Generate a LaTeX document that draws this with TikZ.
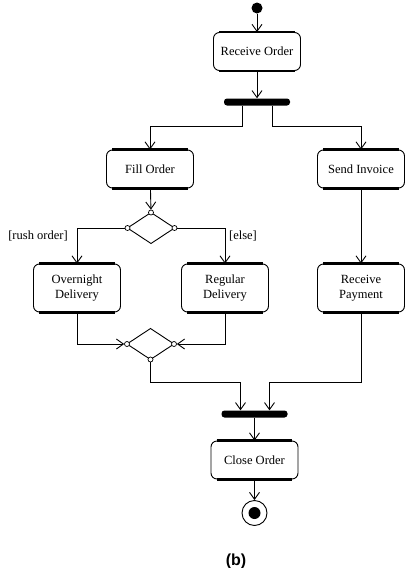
\documentclass[tikz,border=0pt]{standalone}
\usepackage{fontspec}
\setmainfont{Liberation Serif}
\setsansfont{Liberation Sans}
\usetikzlibrary{arrows.meta,shapes.geometric,positioning}
\tikzset{
    activity/.style={
           rectangle,
           rounded corners=6pt,
           draw=black, line width=0.9pt,
           minimum width=87pt,
           minimum height=38pt,
           inner sep=2pt,
           align=center,
           font=\fontsize{12.5}{15.5}\selectfont,
           },
    bar/.style={
           rectangle,
           rounded corners=3pt,
           fill=black,
           minimum width=66pt,
           minimum height=7pt,
           inner sep=0pt,
           },
    choice/.style={
           diamond,
           draw=black, line width=0.9pt,
           minimum width=47pt,
           minimum height=31pt,
           inner sep=0pt, outer sep=0pt,
           },
    port/.style={
           circle,
           draw=black, line width=0.7pt,
           fill=white,
           inner sep=0pt,
           minimum size=5pt,
           },
    flow/.style={draw, line width=0.9pt,
           -{Straight Barb[length=7pt,width=10pt,line width=0.9pt]}},
    guard/.style={font=\fontsize{12.5}{15}\selectfont},
}

\begin{document}
\begin{tikzpicture}[x=1pt,y=-1pt]
 \useasboundingbox (0,0) rectangle (407,568);

 % nodes
 \node[circle, fill=black, minimum size=11pt, inner sep=0pt] (init) at (257,8) {};
 \node[activity] (recvorder) at (257,51.5) {Receive Order};
 \node[bar] (fork) at (257,102) {};
 \node[activity] (fillorder) at (150,169) {Fill Order};
 \node[activity] (sendinvoice) at (361,169) {Send Invoice};
 \node[choice] (branch) at (151,228) {};
 \node[port] (branch-n) at (branch.north) {};
 \node[port] (branch-w) at (branch.west) {};
 \node[port] (branch-e) at (branch.east) {};
 \node[activity, minimum height=48pt] (overnight) at (77,288) {Overnight\\Delivery};
 \node[activity, minimum height=48pt] (regular) at (225,288) {Regular\\Delivery};
 \node[activity, minimum height=48pt] (recvpayment) at (361,288) {Receive\\Payment};
 \node[choice] (merge) at (150.5,344) {};
 \node[port] (merge-w) at (merge.west) {};
 \node[port] (merge-e) at (merge.east) {};
 \node[port] (merge-s) at (merge.south) {};
 \node[bar] (join) at (254.5,414) {};
 \node[activity] (closeorder) at (254.5,460) {Close Order};
 \node[circle, draw=black, line width=0.9pt, minimum size=25pt, inner sep=0pt] (final) at (254.5,513) {};
 \node[circle, fill=black, minimum size=12pt, inner sep=0pt] (finaldot) at (final.center) {};

 % guards
 \node[guard] (rushlbl) at (38,236) {[rush order]};
 \node[guard] (elselbl) at (243,236) {[else]};

 % thick top and bottom edges
 \foreach \n in {recvorder,fillorder,sendinvoice,overnight,regular,recvpayment,closeorder}{
   \draw[line width=2.5pt] ([xshift=6pt]\n.north west) -- ([xshift=-6pt]\n.north east);
   \draw[line width=2.5pt] ([xshift=6pt]\n.south west) -- ([xshift=-6pt]\n.south east);
 }

 % flows
 \draw[flow] (init) -- (recvorder);
 \draw[flow] (recvorder) -- (fork);
 \draw[flow] ([xshift=-15pt]fork.south) -- ++(0,21) -| (fillorder.north);
 \draw[flow] ([xshift=15pt]fork.south) -- ++(0,21) -| (sendinvoice.north);
 \draw[flow] (fillorder) -- (branch-n);
 \draw[flow] (branch-w) -| (overnight.north);
 \draw[flow] (branch-e) -| (regular.north);
 \draw[flow] (sendinvoice) -- (recvpayment);
 \draw[flow] (overnight.south) |- (merge-w);
 \draw[flow] (regular.south) |- (merge-e);
 \draw[flow] (merge-s) -- ++(0,23) -| ([xshift=-14pt]join.north);
 \draw[flow] (recvpayment.south) -- ++(0,70) -| ([xshift=15pt]join.north);
 \draw[flow] (join) -- (closeorder);
 \draw[flow] (closeorder) -- (final);

 \node[font=\sffamily\bfseries\fontsize{16}{18}\selectfont] (caption) at (236,561) {(b)};

\end{tikzpicture}
\end{document}
